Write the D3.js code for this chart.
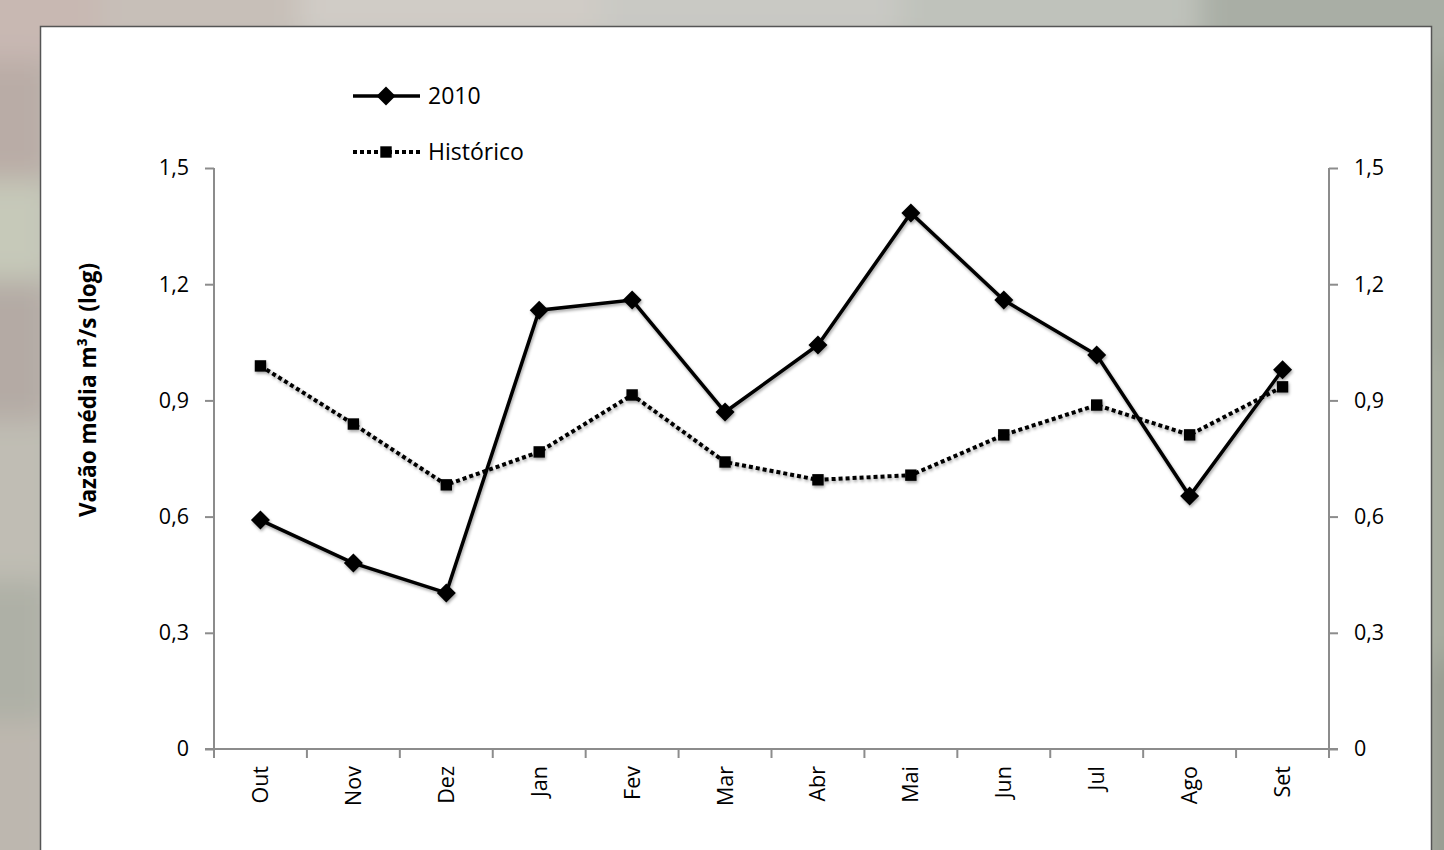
<!DOCTYPE html>
<html>
<head>
<meta charset="utf-8">
<script src="https://cdn.jsdelivr.net/npm/d3@7"></script>
<style>
  html, body { margin: 0; padding: 0; background: #b9b8b2; }
  svg { display: block; }
</style>
</head>
<body>
<svg id="chart" width="1444" height="850"></svg>
<script>
// Monthly mean flow (log scale), hydrological year Oct–Sep
const months = ["Out", "Nov", "Dez", "Jan", "Fev", "Mar", "Abr", "Mai", "Jun", "Jul", "Ago", "Set"];
const values2010 = [0.591, 0.480, 0.403, 1.133, 1.159, 0.870, 1.043, 1.384, 1.159, 1.017, 0.653, 0.979];
const valuesHistorico = [0.989, 0.839, 0.682, 0.767, 0.914, 0.741, 0.695, 0.707, 0.811, 0.888, 0.811, 0.935];
const yTicks = [0, 0.3, 0.6, 0.9, 1.2, 1.5];
const seriesNames = ["2010", "Histórico"];

const svg = d3.select("#chart");
const W = 1444, H = 850;
const font = "'Open Sans', 'Liberation Sans', sans-serif";

// Blurred backdrop around the chart panel
const defs = svg.append("defs");
const blur = defs.append("filter").attr("id", "bgblur")
  .attr("x", "-20%").attr("y", "-20%").attr("width", "140%").attr("height", "140%");
blur.append("feGaussianBlur").attr("stdDeviation", 14);
const shadow = defs.append("filter").attr("id", "shadow")
  .attr("x", "-10%").attr("y", "-10%").attr("width", "120%").attr("height", "120%");
shadow.append("feDropShadow").attr("dx", 1).attr("dy", 2).attr("stdDeviation", 1.5)
  .attr("flood-color", "#000").attr("flood-opacity", 0.35);

const bg = svg.append("g").attr("filter", "url(#bgblur)");
bg.append("rect").attr("x", -40).attr("y", -40).attr("width", W + 80).attr("height", H + 80).attr("fill", "#bdbcb5");
const patches = [
  [-30, -30, 140, 90, "#c8b8b2"], [100, -30, 200, 70, "#c7bfb8"], [300, -30, 300, 70, "#d0ccc6"],
  [600, -30, 300, 70, "#c9c9c4"], [900, -30, 300, 70, "#bfc2bb"], [1200, -30, 280, 90, "#a9aea5"],
  [-30, 60, 80, 120, "#b9aca6"], [-30, 180, 80, 100, "#c6c9b9"], [-30, 280, 80, 140, "#b4aaa4"],
  [-30, 420, 80, 160, "#c0bdb4"], [-30, 580, 80, 140, "#aeb0a6"], [-30, 720, 80, 160, "#bdb7af"],
  [1420, 60, 60, 300, "#9ea498"], [1420, 360, 60, 300, "#a4aa9d"], [1420, 660, 60, 220, "#989d92"]
];
bg.selectAll(".patch").data(patches).join("rect")
  .attr("x", d => d[0]).attr("y", d => d[1]).attr("width", d => d[2]).attr("height", d => d[3])
  .attr("fill", d => d[4]);

// Chart panel
svg.append("rect").attr("x", 40.5).attr("y", 26.5).attr("width", 1391).attr("height", 840)
  .attr("fill", "#fff").attr("stroke", "#555").attr("stroke-width", 1.5);

// Scales
const plot = { left: 214, right: 1329, top: 168, bottom: 749 };
const x = d3.scaleBand().domain(months).range([plot.left, plot.right]);
const y = d3.scaleLinear().domain([0, 1.5]).range([plot.bottom, plot.top]);
const tickFmt = d => d === 0 ? "0" : d3.format(".1f")(d).replace(".", ",");
const axisColor = "#8c8c8c";

// Left axis
const gl = svg.append("g").attr("transform", `translate(${plot.left},0)`)
  .call(d3.axisLeft(y).tickValues(yTicks).tickFormat(tickFmt).tickSize(9).tickPadding(16));
// Right axis
const gr = svg.append("g").attr("transform", `translate(${plot.right},0)`)
  .call(d3.axisRight(y).tickValues(yTicks).tickFormat(tickFmt).tickSize(9).tickPadding(16));
// Bottom axis with tick marks on category boundaries
const boundaries = months.map(m => x(m)).concat([plot.right]);
const gb = svg.append("g").attr("transform", `translate(0,${plot.bottom})`)
  .call(d3.axisBottom(x).tickSize(0).tickPadding(0));
gb.selectAll(".boundary").data(boundaries).join("line").attr("class", "boundary")
  .attr("x1", d => d).attr("x2", d => d).attr("y1", 0).attr("y2", 9)
  .attr("stroke", axisColor).attr("stroke-width", 2);
gb.selectAll(".tick text")
  .attr("transform", "rotate(-90)")
  .attr("text-anchor", "end").attr("dy", "0.35em").attr("x", -17).attr("y", 0);

[gl, gr, gb].forEach(g => {
  g.attr("font-size", null).attr("font-family", null);
  g.select(".domain").attr("stroke", axisColor).attr("stroke-width", 2);
  g.selectAll(".tick line").attr("stroke", axisColor).attr("stroke-width", 2);
  g.selectAll(".tick text").style("font-family", font).style("font-size", "21.5px").attr("fill", "#000");
});
gl.select(".domain").attr("d", `M-0,${plot.top}H0V${plot.bottom}H-0`);
gr.select(".domain").attr("d", `M0,${plot.top}H0V${plot.bottom}H0`);
gb.select(".domain").attr("d", `M${plot.left - 9},0H${plot.right + 9}`);

// Y-axis title
svg.append("text")
  .attr("transform", `translate(96,390) rotate(-90)`)
  .attr("text-anchor", "middle").style("font-family", font).attr("font-weight", "bold")
  .style("font-size", "22.5px").text("Vazão média m³/s (log)");

// Series
const cx = m => x(m) + x.bandwidth() / 2;
const line = d3.line().x((d, i) => cx(months[i])).y(d => y(d));
const diamond = d3.symbol().type(d3.symbolDiamond2).size(230);
const square = d3.symbol().type(d3.symbolSquare).size(130);

const marks = svg.append("g").attr("filter", "url(#shadow)");
marks.append("path").datum(valuesHistorico).attr("d", line)
  .attr("fill", "none").attr("stroke", "#000").attr("stroke-width", 4).attr("stroke-dasharray", "4 3");
marks.append("path").datum(values2010).attr("d", line)
  .attr("fill", "none").attr("stroke", "#000").attr("stroke-width", 3.5);
marks.selectAll(".hist").data(valuesHistorico).join("path").attr("class", "hist")
  .attr("transform", (d, i) => `translate(${cx(months[i])},${y(d)})`)
  .attr("d", square).attr("fill", "#000");
marks.selectAll(".y2010").data(values2010).join("path").attr("class", "y2010")
  .attr("transform", (d, i) => `translate(${cx(months[i])},${y(d)})`)
  .attr("d", diamond).attr("fill", "#000");

// Legend
const legend = svg.append("g");
const legendRows = [
  { name: seriesNames[0], y: 96, dash: null, w: 3.5, sym: diamond },
  { name: seriesNames[1], y: 152, dash: "4 3", w: 4, sym: square }
];
legendRows.forEach(r => {
  legend.append("line").attr("x1", 353).attr("x2", 420).attr("y1", r.y).attr("y2", r.y)
    .attr("stroke", "#000").attr("stroke-width", r.w).attr("stroke-dasharray", r.dash);
  legend.append("path").attr("transform", `translate(386,${r.y})`).attr("d", r.sym).attr("fill", "#000");
  legend.append("text").attr("x", 428).attr("y", r.y).attr("dy", "0.35em")
    .style("font-family", font).style("font-size", "23px").text(r.name);
});
</script>
</body>
</html>
